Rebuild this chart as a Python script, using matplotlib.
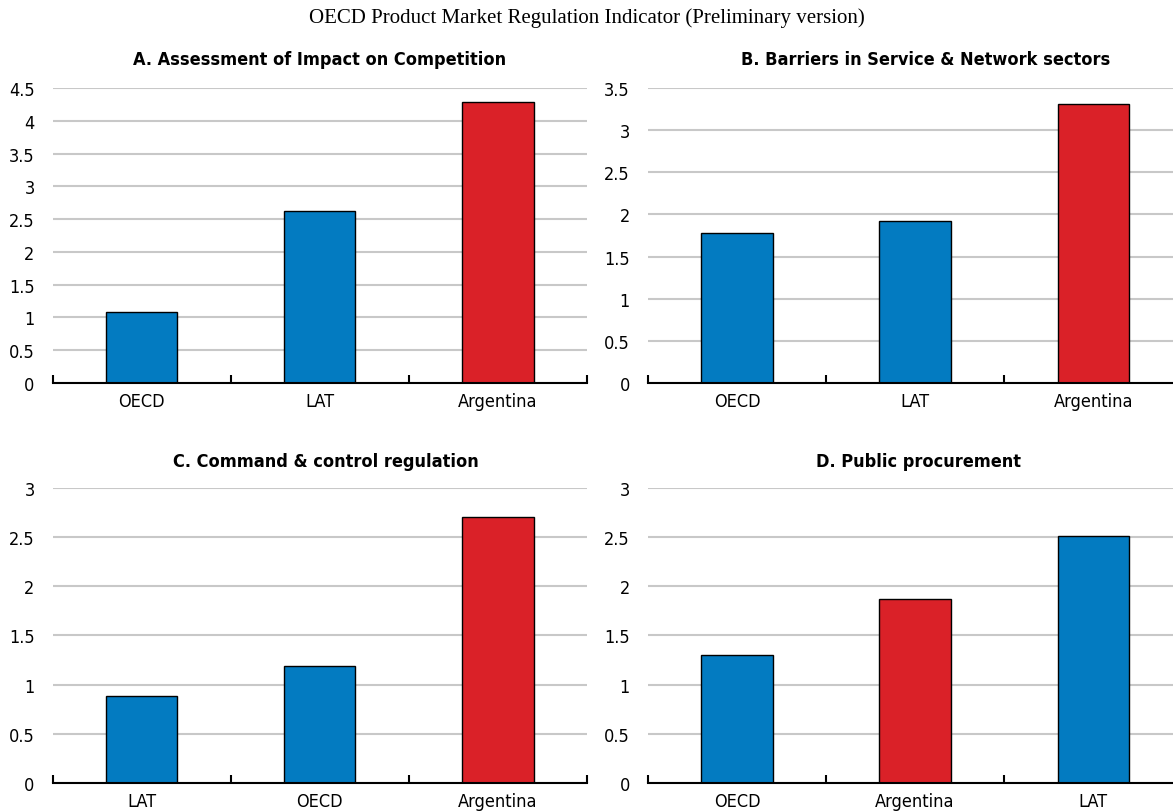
import matplotlib
matplotlib.use("Agg")
import matplotlib.pyplot as plt
from matplotlib.ticker import FixedLocator, NullFormatter

# panel data
titles = ["A. Assessment of Impact on Competition",
          "B. Barriers in Service & Network sectors",
          "C. Command & control regulation",
          "D. Public procurement"]
cats_a = ["OECD", "LAT", "Argentina"]
vals_a = [1.09, 2.62, 4.28]
cats_b = ["OECD", "LAT", "Argentina"]
vals_b = [1.78, 1.92, 3.31]
cats_c = ["LAT", "OECD", "Argentina"]
vals_c = [0.88, 1.19, 2.70]
cats_d = ["OECD", "Argentina", "LAT"]
vals_d = [1.30, 1.87, 2.51]
ymax = [4.5, 3.5, 3.0, 3.0]

BLUE = "#037bc1"
RED = "#da2128"
narrow = ["DejaVu Sans"]

fig = plt.figure(figsize=(11.73, 8.12), dpi=100)
fig.text(0.5, 1 - 18 / 812, "OECD Product Market Regulation Indicator (Preliminary version)",
         ha="center", va="center", fontsize=15, family=["Liberation Serif", "DejaVu Serif"])

boxes = [[0.0449, 0.5271, 0.4555, 0.3633],
         [0.5524, 0.5271, 0.4555, 0.3633],
         [0.0449, 0.0345, 0.4555, 0.3633],
         [0.5524, 0.0345, 0.4555, 0.3633]]
title_x = [320 / 1173, 926 / 1173, 326 / 1173, 919 / 1173]
title_y = [1 - 60 / 812, 1 - 60 / 812, 1 - 462 / 812, 1 - 462 / 812]

panels = [(cats_a, vals_a), (cats_b, vals_b), (cats_c, vals_c), (cats_d, vals_d)]
for i, (cats, vals) in enumerate(panels):
    ax = fig.add_axes(boxes[i])
    colors = [RED if c == "Argentina" else BLUE for c in cats]
    x = list(range(len(cats)))
    ax.bar(x, vals, width=0.4, color=colors, edgecolor="black", linewidth=1, zorder=3)
    ax.set_xlim(-0.5, len(cats) - 0.5)
    ax.set_ylim(0, ymax[i])
    ax.set_yticks([k * 0.5 for k in range(int(ymax[i] / 0.5) + 1)])
    ax.set_yticklabels([f"{k * 0.5:g}" for k in range(int(ymax[i] / 0.5) + 1)])
    ax.yaxis.grid(True, color="#c8c8c8", linewidth=1.5, zorder=0)
    ax.set_axisbelow(True)
    for s in ["top", "right", "left"]:
        ax.spines[s].set_visible(False)
    ax.spines["bottom"].set_linewidth(1.5)
    ax.spines["bottom"].set_zorder(4)
    ax.tick_params(axis="y", length=0, pad=13)
    ax.set_xticks(x)
    ax.set_xticklabels(cats)
    ax.tick_params(axis="x", which="major", length=0, pad=6.5)
    ax.xaxis.set_minor_locator(FixedLocator([k - 0.5 for k in range(len(cats) + 1)]))
    ax.xaxis.set_minor_formatter(NullFormatter())
    ax.tick_params(axis="x", which="minor", direction="in", length=6, width=1.5)
    for lab in ax.get_xticklabels() + ax.get_yticklabels():
        lab.set_family(narrow)
        lab.set_stretch("condensed")
        lab.set_fontsize(13)
    fig.text(title_x[i], title_y[i], titles[i], ha="center", va="center",
             fontsize=13, fontweight="bold", family=narrow, stretch="condensed")

fig.savefig("out.png", dpi=100)
